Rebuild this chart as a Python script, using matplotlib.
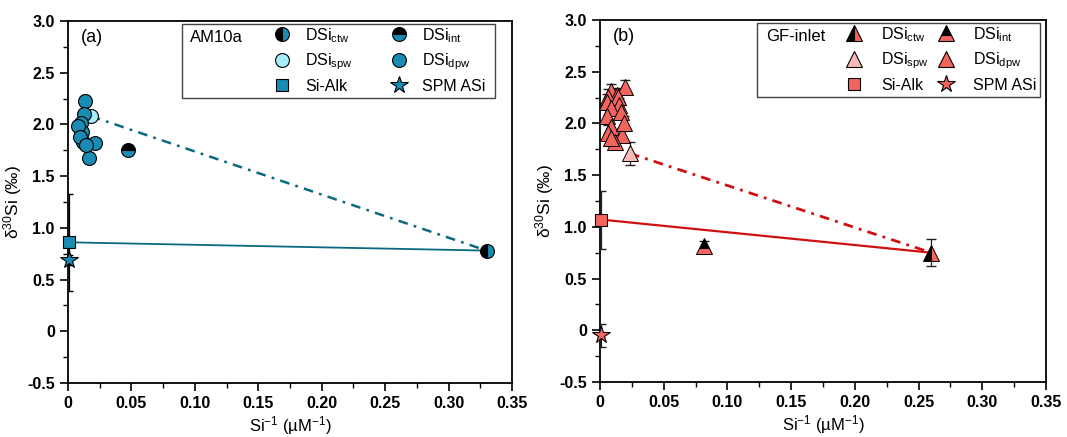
import matplotlib
matplotlib.use("Agg")
import matplotlib.pyplot as plt
from matplotlib.lines import Line2D
from matplotlib.patches import Rectangle
from matplotlib.ticker import MultipleLocator, FuncFormatter

plt.rcParams['font.family'] = ['Liberation Sans', 'DejaVu Sans']
plt.rcParams['mathtext.fontset'] = 'custom'
plt.rcParams['mathtext.rm'] = 'Liberation Sans'
plt.rcParams['mathtext.it'] = 'Liberation Sans:italic'
plt.rcParams['mathtext.bf'] = 'Liberation Sans:bold'
plt.rcParams['lines.scale_dashes'] = False

# ---------------- Data: panel (a) AM10a ----------------
a_dpw_x = [0.0134, 0.0124, 0.0100, 0.0110, 0.0120, 0.0216, 0.0166, 0.0080, 0.0095, 0.0140]
a_dpw_y = [2.23, 2.10, 2.01, 1.93, 1.83, 1.82, 1.68, 1.98, 1.88, 1.80]
a_spw_x = [0.018]
a_spw_y = [2.08]
a_int_x = [0.047]
a_int_y = [1.75]
a_ctw_x = [0.330]
a_ctw_y = [0.78]
a_alk_x = [0.001]
a_alk_y = [0.86]
a_alk_err = [0.47]
a_spm_x = [0.001]
a_spm_y = [0.69]
a_spm_err = [0.05]

# ---------------- Data: panel (b) GF-inlet ----------------
b_dpw_x = [0.0090, 0.0130, 0.0194, 0.0063, 0.0140, 0.0149, 0.0055, 0.0086,
           0.0165, 0.0055, 0.0090, 0.0063, 0.0173, 0.0118, 0.0090, 0.0190]
b_dpw_y = [2.31, 2.27, 2.35, 2.26, 2.26, 2.18, 2.21, 2.15,
           2.11, 2.07, 1.97, 1.91, 1.89, 1.82, 1.86, 2.00]
b_dpw_err = [0.07] * len(b_dpw_x)
b_spw_x = [0.0235]
b_spw_y = [1.71]
b_spw_err = [0.11]
b_int_x = [0.0816]
b_int_y = [0.81]
b_ctw_x = [0.260]
b_ctw_y = [0.75]
b_ctw_err = [0.13]
b_alk_x = [0.001]
b_alk_y = [1.07]
b_alk_err = [0.28]
b_spm_x = [0.001]
b_spm_y = [-0.05]
b_spm_err = [0.11]

x_ticks = [0, 0.05, 0.10, 0.15, 0.20, 0.25, 0.30, 0.35]
y_ticks = [-0.5, 0, 0.5, 1.0, 1.5, 2.0, 2.5, 3.0]

# colours
TEAL = '#1a8bb3'
TEAL_LIGHT = '#a8ecfa'
TEAL_LINE = '#0b6a80'
SALMON = '#f4645f'
PINK = '#f9b9b7'
RED_LINE = '#d01010'

fig = plt.figure(figsize=(10.67, 4.37), dpi=100)
axA = fig.add_axes([0.0637, 0.1236, 0.4161, 0.8284])
axB = fig.add_axes([0.5623, 0.1259, 0.4180, 0.8284])

DASHDOT = (0, (7, 4.5, 2, 4.5))


def style_axes(ax):
    ax.set_xlim(0, 0.35)
    ax.set_ylim(-0.5, 3.0)
    ax.set_xticks(x_ticks)
    ax.set_yticks(y_ticks)
    ax.xaxis.set_minor_locator(MultipleLocator(0.025))
    ax.yaxis.set_minor_locator(MultipleLocator(0.25))
    ax.xaxis.set_major_formatter(FuncFormatter(lambda v, p: '0' if abs(v) < 1e-9 else f'{v:.2f}'))
    ax.yaxis.set_major_formatter(FuncFormatter(lambda v, p: '0' if abs(v) < 1e-9 else f'{v:.1f}'))
    ax.tick_params(which='major', direction='out', length=6, width=1.2, labelsize=11.5,
                   top=False, right=False)
    ax.tick_params(which='minor', direction='out', length=3.5, width=1.0, top=False, right=False)
    for lab in ax.get_xticklabels() + ax.get_yticklabels():
        lab.set_fontweight('bold')
    for s in ax.spines.values():
        s.set_linewidth(1.3)
    ax.set_xlabel('Si$^{-1}$ (µM$^{-1}$)', fontsize=12, labelpad=2)
    ax.set_ylabel('δ$^{30}$Si (‰)', fontsize=12.5, labelpad=2)


def draw_legend(ax, title, marker, main, light, box, title_pos, **kw):
    ms = kw.get('ms', 10)
    handles = [
        Line2D([], [], ls='none', marker=marker, ms=ms, mec='black', mew=0.8,
               fillstyle='left', mfc='black', mfcalt=main),
        Line2D([], [], ls='none', marker=marker, ms=ms, mec='black', mew=0.8, mfc=light),
        Line2D([], [], ls='none', marker='s', ms=9, mec='black', mew=0.8, mfc=main),
        Line2D([], [], ls='none', marker=marker, ms=ms, mec='black', mew=0.8,
               fillstyle='top', mfc='black', mfcalt=main),
        Line2D([], [], ls='none', marker=marker, ms=ms, mec='black', mew=0.8, mfc=main),
        Line2D([], [], ls='none', marker='*', ms=13, mec='black', mew=0.8, mfc=main),
    ]
    labels = ['DSi$_{\\mathrm{ctw}}$', 'DSi$_{\\mathrm{spw}}$', 'Si-Alk',
              'DSi$_{\\mathrm{int}}$', 'DSi$_{\\mathrm{dpw}}$', 'SPM ASi']
    ax.legend(handles, labels, ncol=2, frameon=False, fontsize=11.5,
              loc='upper left', bbox_to_anchor=kw['anchor'],
              handlelength=1.0, handletextpad=kw.get('htp', 0.8),
              columnspacing=kw.get('cs', 1.2), labelspacing=0.42,
              borderpad=0.2, borderaxespad=0)
    x0, y0, x1, y1 = box
    ax.add_patch(Rectangle((x0, y0), x1 - x0, y1 - y0, transform=ax.transAxes,
                           fill=False, ec='#444444', lw=1.0, zorder=5, clip_on=False))
    ax.text(title_pos[0], title_pos[1], title, transform=ax.transAxes, fontsize=12,
            va='center', ha='left')


# ---------------- Panel (a) ----------------
ax = axA
style_axes(ax)
ax.plot([a_alk_x[0], a_ctw_x[0]], [a_alk_y[0], a_ctw_y[0]], color=TEAL_LINE, lw=1.3, zorder=2)
ax.plot([a_spw_x[0], a_ctw_x[0]], [a_spw_y[0], a_ctw_y[0]], color=TEAL_LINE, lw=1.8,
        ls=DASHDOT, zorder=2)
ax.errorbar(a_dpw_x, a_dpw_y, yerr=[0.05] * len(a_dpw_x), fmt='none', ecolor='black',
            elinewidth=0.9, capsize=3, zorder=3)
ax.errorbar(a_alk_x, a_alk_y, yerr=a_alk_err, fmt='none', ecolor='black', elinewidth=0.9,
            capsize=3, zorder=3)
ax.errorbar(a_spm_x, a_spm_y, yerr=a_spm_err, fmt='none', ecolor='black', elinewidth=0.9,
            capsize=3, zorder=3)
ax.plot(a_dpw_x, a_dpw_y, ls='none', marker='o', ms=10, mfc=TEAL, mec='black', mew=0.8, zorder=4)
ax.plot(a_spw_x, a_spw_y, ls='none', marker='o', ms=10, mfc=TEAL_LIGHT, mec='black', mew=0.8, zorder=3.5)
ax.plot(a_int_x, a_int_y, ls='none', marker='o', ms=10, fillstyle='top', mfc='black',
        mfcalt=TEAL, mec='black', mew=0.8, zorder=4)
ax.plot(a_ctw_x, a_ctw_y, ls='none', marker='o', ms=10, fillstyle='left', mfc='black',
        mfcalt=TEAL, mec='black', mew=0.8, zorder=4, clip_on=False)
ax.plot(a_alk_x, a_alk_y, ls='none', marker='s', ms=9, mfc=TEAL, mec='black', mew=0.8,
        zorder=4, clip_on=False)
ax.plot(a_spm_x, a_spm_y, ls='none', marker='*', ms=13, mfc=TEAL, mec='black', mew=0.8,
        zorder=4, clip_on=False)
ax.text(0.028, 0.955, '(a)', transform=ax.transAxes, fontsize=13, va='center', ha='left')
draw_legend(ax, 'AM10a', 'o', TEAL, TEAL_LIGHT, (0.257, 0.788, 0.962, 0.992),
            (0.275, 0.955), anchor=(0.456, 0.995), ms=10, cs=2.35, htp=0.98)

# ---------------- Panel (b) ----------------
ax = axB
style_axes(ax)
ax.plot([b_alk_x[0], b_ctw_x[0]], [b_alk_y[0], b_ctw_y[0]], color=RED_LINE, lw=1.6, zorder=2)
ax.plot([b_spw_x[0], b_ctw_x[0]], [b_spw_y[0], b_ctw_y[0]], color=RED_LINE, lw=2.0,
        ls=DASHDOT, zorder=2)
for xs, ys, es in [(b_dpw_x, b_dpw_y, b_dpw_err), (b_spw_x, b_spw_y, b_spw_err),
                   (b_ctw_x, b_ctw_y, b_ctw_err), (b_int_x, b_int_y, [0.05]),
                   (b_alk_x, b_alk_y, b_alk_err), (b_spm_x, b_spm_y, b_spm_err)]:
    ax.errorbar(xs, ys, yerr=es, fmt='none', ecolor='#222222', elinewidth=0.9,
                capsize=3.5, zorder=3)
ax.plot(b_dpw_x, b_dpw_y, ls='none', marker='^', ms=12, mfc=SALMON, mec='black', mew=0.7, zorder=4)
ax.plot(b_spw_x, b_spw_y, ls='none', marker='^', ms=12, mfc=PINK, mec='black', mew=0.7, zorder=4)
ax.plot(b_int_x, b_int_y, ls='none', marker='^', ms=12, fillstyle='top', mfc='black',
        mfcalt=SALMON, mec='black', mew=0.7, zorder=4)
ax.plot(b_ctw_x, b_ctw_y, ls='none', marker='^', ms=12, fillstyle='left', mfc='black',
        mfcalt=SALMON, mec='black', mew=0.7, zorder=4)
ax.plot(b_alk_x, b_alk_y, ls='none', marker='s', ms=9, mfc=SALMON, mec='black', mew=0.8,
        zorder=4, clip_on=False)
ax.plot(b_spm_x, b_spm_y, ls='none', marker='*', ms=13, mfc=SALMON, mec='black', mew=0.8,
        zorder=4, clip_on=False)
ax.text(0.028, 0.955, '(b)', transform=ax.transAxes, fontsize=13, va='center', ha='left')
draw_legend(ax, 'GF-inlet', '^', SALMON, PINK, (0.351, 0.788, 0.986, 0.992),
            (0.373, 0.955), anchor=(0.545, 0.995), ms=11, cs=0.55, htp=1.2)

fig.savefig('out.png', dpi=100)
